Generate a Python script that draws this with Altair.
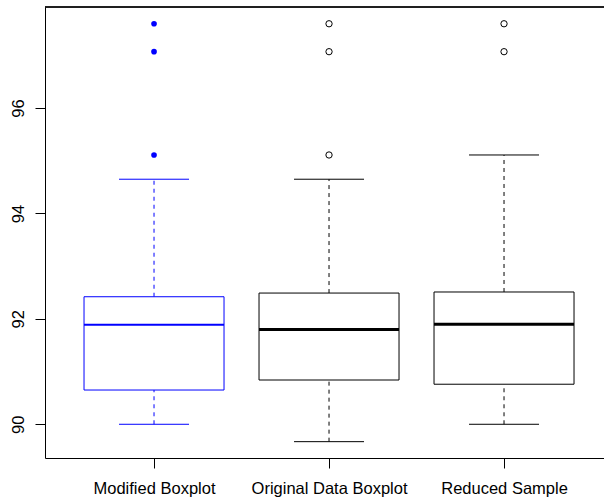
import altair as alt
import pandas as pd

groups = ["Modified Boxplot", "Original Data Boxplot", "Reduced Sample"]
positions = [1, 2, 3]
lower_whisker = [90.00, 89.67, 90.00]
q1 = [90.65, 90.84, 90.76]
median = [91.89, 91.80, 91.90]
q3 = [92.42, 92.49, 92.51]
upper_whisker = [94.65, 94.65, 95.11]

outlier_groups = ["Modified Boxplot"] * 3 + ["Original Data Boxplot"] * 3 + ["Reduced Sample"] * 2
outlier_pos = [1, 1, 1, 2, 2, 2, 3, 3]
outlier_values = [95.11, 97.07, 97.60, 95.11, 97.07, 97.60, 97.07, 97.60]

stats = pd.DataFrame({
    "group": groups, "pos": positions, "lo": lower_whisker, "q1": q1,
    "med": median, "q3": q3, "hi": upper_whisker,
})
outs = pd.DataFrame({"group": outlier_groups, "pos": outlier_pos, "value": outlier_values})

W, H = 559, 451
xdom = [0.377, 0.377 + W / 175.0]
ydom = [89.36, 97.918]

label_expr = "datum.value == 1 ? 'Modified Boxplot' : datum.value == 2 ? 'Original Data Boxplot' : 'Reduced Sample'"

xscale = alt.Scale(domain=xdom, nice=False, zero=False)
yscale = alt.Scale(domain=ydom, nice=False, zero=False)

stroke_enc = alt.Stroke("group:N", scale=alt.Scale(domain=groups, range=["#0000FF", "#000000", "#000000"]), legend=None)

xaxis = alt.Axis(values=[1, 2, 3], labelExpr=label_expr, title=None, grid=False,
                 tickSize=10, labelPadding=12, labelFontSize=16.5, domain=True)
yaxis = alt.Axis(values=[90, 92, 94, 96], title=None, grid=False, tickSize=10,
                 labelAngle=270, labelAlign="center", labelBaseline="bottom",
                 labelPadding=9, labelFontSize=16.5)

base = alt.Chart(stats).transform_calculate(
    xl="datum.pos - 0.4", xr="datum.pos + 0.4",
    cl="datum.pos - 0.2", cr="datum.pos + 0.2",
)

whisk_hi = base.mark_rule(strokeDash=[4, 4], strokeWidth=1).encode(
    x=alt.X("pos:Q", scale=xscale, axis=xaxis),
    y=alt.Y("q3:Q", scale=yscale, axis=yaxis),
    y2="hi:Q",
    stroke=stroke_enc,
)
whisk_lo = base.mark_rule(strokeDash=[4, 4], strokeWidth=1).encode(
    x=alt.X("pos:Q", scale=xscale), y=alt.Y("lo:Q", scale=yscale), y2="q1:Q", stroke=stroke_enc,
)
box = base.mark_rect(fill="white", strokeWidth=1).encode(
    x=alt.X("xl:Q", scale=xscale), x2="xr:Q",
    y=alt.Y("q1:Q", scale=yscale), y2="q3:Q",
    stroke=stroke_enc,
)
med = base.mark_rule().encode(
    x=alt.X("xl:Q", scale=xscale), x2="xr:Q",
    y=alt.Y("med:Q", scale=yscale),
    stroke=stroke_enc,
    strokeWidth=alt.condition(alt.datum.group == "Modified Boxplot", alt.value(2), alt.value(3)),
)
cap_hi = base.mark_rule(strokeWidth=1).encode(
    x=alt.X("cl:Q", scale=xscale), x2="cr:Q", y=alt.Y("hi:Q", scale=yscale), stroke=stroke_enc,
)
cap_lo = base.mark_rule(strokeWidth=1).encode(
    x=alt.X("cl:Q", scale=xscale), x2="cr:Q", y=alt.Y("lo:Q", scale=yscale), stroke=stroke_enc,
)

out_base = alt.Chart(outs)
out_mod = out_base.transform_filter(alt.datum.group == "Modified Boxplot").mark_circle(
    color="#0000FF", size=32, opacity=1
).encode(x=alt.X("pos:Q", scale=xscale), y=alt.Y("value:Q", scale=yscale))
out_other = out_base.transform_filter(alt.datum.group != "Modified Boxplot").mark_point(
    shape="circle", color="#000000", filled=False, size=40, strokeWidth=1, opacity=1
).encode(x=alt.X("pos:Q", scale=xscale), y=alt.Y("value:Q", scale=yscale))

top = alt.Chart(stats).mark_rule(color="black", strokeWidth=1).encode(
    x=alt.value(0), x2=alt.value(W), y=alt.value(0)
)

chart = alt.layer(whisk_hi, whisk_lo, box, med, cap_hi, cap_lo, out_mod, out_other, top).properties(
    width=W, height=H,
    autosize=alt.AutoSizeParams(type="none"),
    padding={"left": 45, "top": 7, "right": 0, "bottom": 42},
).configure_view(stroke=None).configure_axis(
    labelFont="Liberation Sans", labelColor="black", tickColor="black",
    domainColor="black", tickWidth=1, domainWidth=1,
)

chart.save("out.html", embed_options={"renderer": "svg", "actions": False})
